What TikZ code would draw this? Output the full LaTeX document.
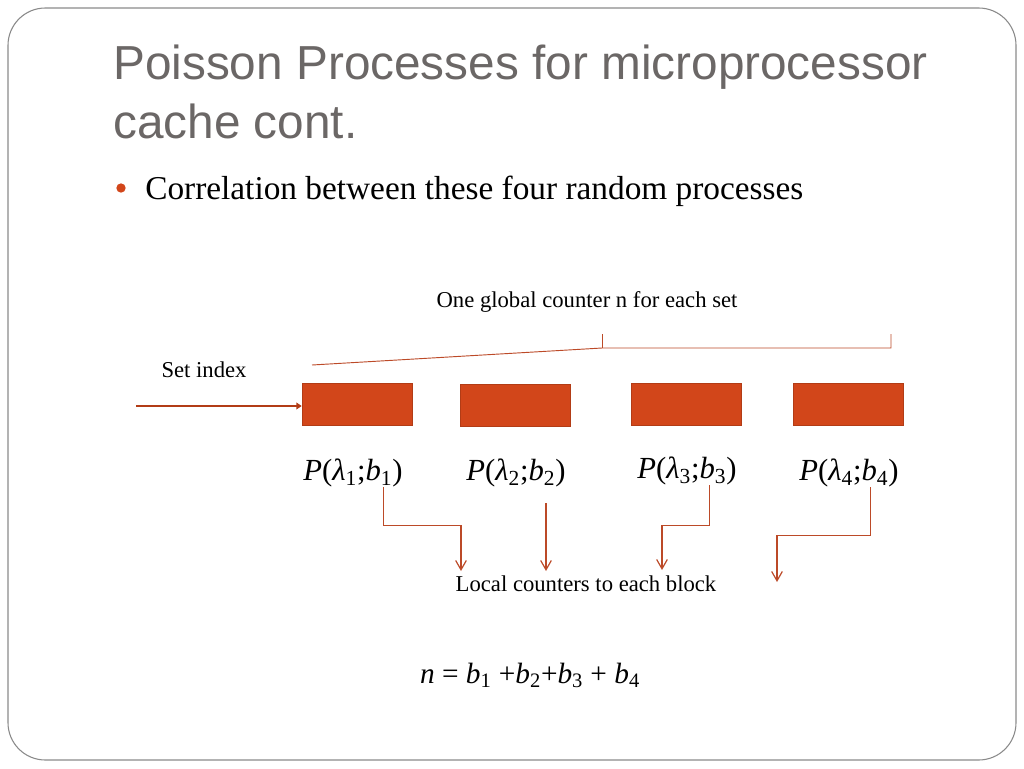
\documentclass[tikz,border=0pt]{standalone}
\usepackage{fontspec}
\setmainfont{Liberation Serif}
\newfontfamily\headfont{Liberation Sans}
\usepackage{tikz}
\usetikzlibrary{arrows.meta, positioning, calc}
\definecolor{slidegray}{HTML}{6B6766}
\definecolor{framegray}{HTML}{8A8A8A}
\definecolor{cacheorange}{HTML}{D2461A}
\definecolor{cacheedge}{HTML}{B23C16}
\definecolor{linkred}{HTML}{BC4A28}

\begin{document}
\begin{tikzpicture}[
    x=0.75pt, y=-0.75pt,
    block/.style={fill=cacheorange, draw=cacheedge, line width=0.6pt, minimum width=83pt, minimum height=32pt, inner sep=0pt},
    plabel/.style={font=\fontsize{23}{27}\selectfont, inner sep=0pt},
    note/.style={font=\fontsize{17}{20}\selectfont, inner sep=0pt},
    link/.style={draw=linkred, line width=0.9pt, -{Straight Barb[length=7pt, width=8pt]}},
    feed/.style={draw=cacheedge, line width=2pt, -{Triangle[length=4pt, width=5pt]}},
    bracket/.style={draw=linkred, line width=0.7pt},
  ]
    \useasboundingbox (0,0) rectangle (1024,768);
    \draw[framegray, line width=0.8pt, rounded corners=28pt] (8,8) rectangle (1016,760);

    % title and bullet
    \node[anchor=base west, inner sep=0pt, text=slidegray, font=\headfont\fontsize{35.8}{40}\selectfont] (title1) at (113,79) {Poisson Processes for microprocessor};
    \node[anchor=base west, inner sep=0pt, text=slidegray, font=\headfont\fontsize{35.8}{40}\selectfont] (title2) at (113,138) {cache cont.};
    \node[circle, fill=cacheorange, minimum size=7pt, inner sep=0pt] (dot) at (121,188) {};
    \node[anchor=base west, inner sep=0pt, font=\fontsize{25}{30}\selectfont] (point) at (145,199) {Correlation between these four random processes};

    % blocks of the set
    \node[block] (b1) at (357.5,404.5) {};
    \node[block] (b2) at (515.5,405.5) {};
    \node[block] (b3) at (686.5,404.5) {};
    \node[block] (b4) at (848.5,404.5) {};

    \node[note] (setidx) at (204,370) {Set index};
    \coordinate (src) at (136,406);
    \draw[feed] (src) -- (src -| b1.west);

    \node[note] (global) at (587,302) {One global counter n for each set};
    \coordinate (g0) at (312,365);
    \coordinate (gm) at (602,348);
    \coordinate (ge) at (891,348);
    \draw[bracket] (g0) -- (gm) -- (ge) -- ++(0,-14);
    \draw[bracket] (gm) -- ++(0,-14);

    % Poisson labels
    \node[plabel] (p1) at (353,473) {\textit{P}(\textit{λ}\textsubscript{1};\textit{b}\textsubscript{1})};
    \node[plabel] (p2) at (516,473) {\textit{P}(\textit{λ}\textsubscript{2};\textit{b}\textsubscript{2})};
    \node[plabel] (p3) at (687,471) {\textit{P}(\textit{λ}\textsubscript{3};\textit{b}\textsubscript{3})};
    \node[plabel] (p4) at (849,473) {\textit{P}(\textit{λ}\textsubscript{4};\textit{b}\textsubscript{4})};

    \node[note] (local) at (586,584) {Local counters to each block};
    \coordinate (e1) at (461,571);
    \coordinate (e2) at (546,571);
    \coordinate (e3) at (662,570);
    \coordinate (e4) at (777,582);
    \draw[link] ([xshift=23pt]p1.south) -- ++(0,38) -| (e1);
    \draw[link] ([xshift=22.5pt,yshift=-12pt]p2.south) -- (e2);
    \draw[link] ([xshift=17pt]p3.south) -- ++(0,40) -| (e3);
    \draw[link] ([xshift=16pt]p4.south) -- ++(0,48) -| (e4);

    \node[plabel, font=\fontsize{22}{26}\selectfont] (sum) at (530,675) {\textit{n} = \textit{b}\textsubscript{1} +\textit{b}\textsubscript{2}+\textit{b}\textsubscript{3} + \textit{b}\textsubscript{4}};
  \end{tikzpicture}
\end{document}
